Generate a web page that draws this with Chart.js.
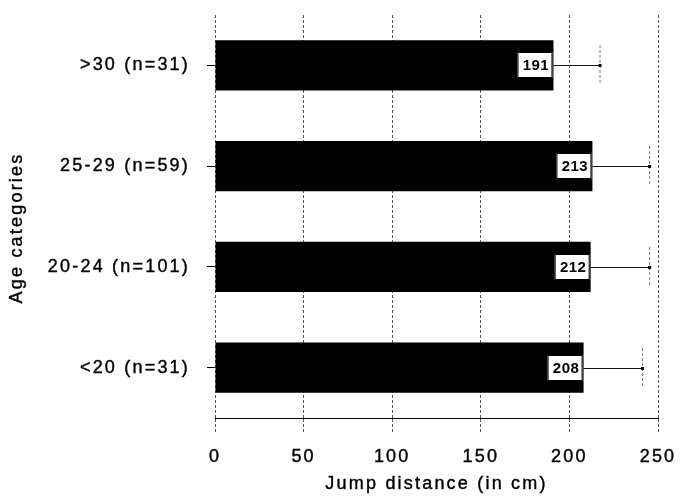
<!DOCTYPE html>
<html>
<head>
<meta charset="utf-8">
<script src="https://cdn.jsdelivr.net/npm/chart.js@4"></script>
<style>
  html, body { margin: 0; padding: 0; background: #fff; }
  #wrap { width: 680px; height: 497px; }
</style>
</head>
<body>
<div id="wrap"><canvas id="jumpChart"></canvas></div>
<script>
const categories = ['>30 (n=31)', '25-29 (n=59)', '20-24 (n=101)', '<20 (n=31)'];
const meanDistance = [191, 213, 212, 208];
const errorPlus = [26, 32, 33, 33];
const xTicks = [0, 50, 100, 150, 200, 250];
const xTitle = 'Jump distance (in cm)';
const yTitle = 'Age categories';

const FONT = 'Liberation Sans, Arial, sans-serif';
const SIZE = 18;
const SPACING = '2.2px';

// canvas state gets reset on resize, so put the letter spacing back before layout and draw
const spacingPlugin = {
  id: 'spacing',
  beforeLayout(chart) { chart.ctx.letterSpacing = SPACING; },
  beforeDraw(chart) { chart.ctx.letterSpacing = SPACING; }
};

function heavyText(ctx, text, x, y) {
  ctx.fillText(text, x, y);
  ctx.strokeText(text, x, y);
}

// both axis titles; the vertical one sits a bit below the plot centre
const titlesPlugin = {
  id: 'titles',
  afterDraw(chart) {
    const ctx = chart.ctx;
    const area = chart.chartArea;
    ctx.save();
    ctx.font = SIZE + 'px ' + FONT;
    ctx.letterSpacing = SPACING;
    ctx.fillStyle = '#000';
    ctx.strokeStyle = '#000';
    ctx.lineWidth = 0.4;
    ctx.textAlign = 'center';
    ctx.textBaseline = 'middle';
    heavyText(ctx, xTitle, (area.left + area.right) / 2, 484);
    ctx.translate(17, 228);
    ctx.rotate(-Math.PI / 2);
    heavyText(ctx, yTitle, 0, 0);
    ctx.restore();
  }
};

// error whiskers plus the boxed value at the end of each bar
const barExtras = {
  id: 'barExtras',
  afterDatasetsDraw(chart) {
    const ctx = chart.ctx;
    const xScale = chart.scales.x;
    const meta = chart.getDatasetMeta(0);
    ctx.save();
    meta.data.forEach((bar, i) => {
      const xEnd = xScale.getPixelForValue(meanDistance[i] + errorPlus[i]);
      const y = Math.round(bar.y);
      ctx.setLineDash([]);
      ctx.strokeStyle = '#111';
      ctx.lineWidth = 1;
      ctx.beginPath();
      ctx.moveTo(bar.x, y + 0.5);
      ctx.lineTo(xEnd, y + 0.5);
      ctx.stroke();
      ctx.strokeStyle = '#777';
      ctx.setLineDash([3, 2]);
      ctx.beginPath();
      ctx.moveTo(xEnd + 0.5, y - 20);
      ctx.lineTo(xEnd + 0.5, y + 20);
      ctx.stroke();
      ctx.setLineDash([]);
      ctx.fillStyle = '#000';
      ctx.fillRect(xEnd - 1, y - 1, 3, 3);

      const w = 35, h = 26;
      ctx.fillStyle = '#fff';
      ctx.fillRect(bar.x - w - 1, y - h / 2, w, h);
      ctx.strokeStyle = '#000';
      ctx.strokeRect(bar.x - w - 0.5, y - h / 2 + 0.5, w - 1, h - 1);
      ctx.fillStyle = '#000';
      ctx.font = 'bold 15px ' + FONT;
      ctx.letterSpacing = '0.5px';
      ctx.textAlign = 'center';
      ctx.textBaseline = 'middle';
      ctx.fillText(String(meanDistance[i]), bar.x - w / 2, y + 1);
    });
    ctx.restore();
  }
};

const tickFont = { family: FONT, size: SIZE };

new Chart(document.getElementById('jumpChart'), {
  type: 'bar',
  data: {
    labels: categories,
    datasets: [{
      data: meanDistance,
      backgroundColor: '#000',
      borderWidth: 0,
      categoryPercentage: 1,
      barPercentage: 0.5
    }]
  },
  options: {
    indexAxis: 'y',
    responsive: true,
    maintainAspectRatio: false,
    animation: false,
    layout: { padding: { top: 15, right: 22, left: 0, bottom: 0 } },
    plugins: {
      legend: { display: false },
      tooltip: { enabled: false }
    },
    scales: {
      x: {
        min: 0,
        max: 250,
        afterBuildTicks(scale) { scale.ticks = xTicks.map(v => ({ value: v })); },
        afterFit(scale) {
          scale.height = 79;
          scale.paddingLeft = 0;
          scale.paddingRight = 0;
        },
        border: { display: true, color: '#000', width: 1, dash: [3, 2] },
        grid: { color: '#555', lineWidth: 1, tickLength: 14, tickBorderDash: [3, 2] },
        ticks: {
          color: '#000', padding: 14, font: tickFont,
          textStrokeColor: '#000', textStrokeWidth: 0.4
        }
      },
      y: {
        afterFit(scale) {
          scale.width = 215;
          scale.paddingTop = 0;
          scale.paddingBottom = 0;
        },
        border: { display: false },
        grid: { offset: false, drawOnChartArea: false, tickLength: 8, color: '#000' },
        ticks: {
          color: '#000', padding: 17, font: tickFont,
          textStrokeColor: '#000', textStrokeWidth: 0.4
        }
      }
    }
  },
  plugins: [spacingPlugin, barExtras, titlesPlugin]
});
</script>
</body>
</html>
